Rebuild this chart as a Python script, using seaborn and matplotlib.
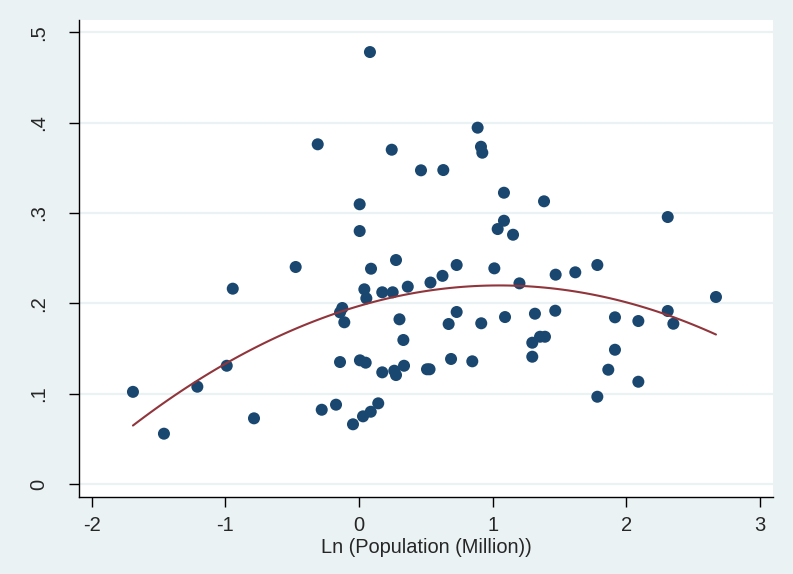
import matplotlib
matplotlib.use("Agg")
import matplotlib.pyplot as plt
import seaborn as sns
import pandas as pd

# Log population (million) and the outcome share for each observation
ln_pop = [
    -1.692, -1.460, -1.210, -0.990, -0.945, -0.786, -0.474, -0.309, -0.279, -0.172,
    -0.142, -0.142, -0.125, -0.110, -0.045, 0.005, 0.005, 0.007, 0.030, 0.040,
    0.050, 0.055, 0.082, 0.090, 0.088, 0.144, 0.174, 0.174, 0.245, 0.252,
    0.277, 0.264, 0.277, 0.303, 0.332, 0.337, 0.365, 0.464, 0.509, 0.528,
    0.535, 0.625, 0.631, 0.671, 0.689, 0.731, 0.731, 0.848, 0.888, 0.913,
    0.923, 0.915, 1.013, 1.038, 1.085, 1.085, 1.093, 1.153, 1.201, 1.297,
    1.297, 1.317, 1.355, 1.392, 1.385, 1.469, 1.472, 1.619, 1.784, 1.784,
    1.866, 1.916, 1.916, 2.091, 2.091, 2.311, 2.311, 2.353, 2.672,
]
share = [
    0.102, 0.0557, 0.1077, 0.1309, 0.2162, 0.0727, 0.2402, 0.3760, 0.0822, 0.0878,
    0.1350, 0.1900, 0.1948, 0.1790, 0.0661, 0.3096, 0.2800, 0.1369, 0.0749, 0.2155,
    0.1343, 0.2055, 0.4781, 0.2383, 0.0800, 0.0893, 0.2122, 0.1236, 0.3700, 0.2122,
    0.2479, 0.1254, 0.1206, 0.1823, 0.1594, 0.1309, 0.2184, 0.3472, 0.1270, 0.1270,
    0.2230, 0.2304, 0.3475, 0.1771, 0.1384, 0.1904, 0.2424, 0.1358, 0.3944, 0.3733,
    0.3667, 0.1779, 0.2387, 0.2822, 0.3224, 0.2914, 0.1848, 0.2759, 0.2221, 0.1564,
    0.1409, 0.1885, 0.1630, 0.1630, 0.3129, 0.1918, 0.2317, 0.2343, 0.2424, 0.0966,
    0.1265, 0.1845, 0.1486, 0.1804, 0.1132, 0.2955, 0.1915, 0.1774, 0.2070,
]

x_ticks = [-2, -1, 0, 1, 2, 3]
x_tick_labels = ["-2", "-1", "0", "1", "2", "3"]
y_ticks = [0, 0.1, 0.2, 0.3, 0.4, 0.5]
y_tick_labels = ["0", ".1", ".2", ".3", ".4", ".5"]
x_label = "Ln (Population (Million))"

df = pd.DataFrame({"ln_pop": ln_pop, "share": share})

sns.set_theme(style="white")
plt.rcParams["font.family"] = ["Liberation Sans", "DejaVu Sans"]

BG = "#EAF2F3"
NAVY = "#1A476F"
MAROON = "#90353B"

fig = plt.figure(figsize=(7.93, 5.74), dpi=100, facecolor=BG)
ax = fig.add_axes([0.0996, 0.1341, 0.8752, 0.8311])
ax.set_facecolor("white")

# horizontal grid lines at each y tick
for yv in y_ticks:
    ax.axhline(yv, color=BG, lw=1.6, zorder=0)

sns.scatterplot(data=df, x="ln_pop", y="share", ax=ax, color=NAVY,
                s=75, edgecolor="none", zorder=3)
# quadratic fit line
sns.regplot(data=df, x="ln_pop", y="share", ax=ax, order=2, ci=None,
            scatter=False, line_kws={"color": MAROON, "lw": 1.5, "zorder": 4})

ax.set_xlim(-2.096, 3.099)
ax.set_ylim(-0.0144, 0.5136)
ax.set_xticks(x_ticks)
ax.set_xticklabels(x_tick_labels, fontsize=14.5)
ax.set_yticks(y_ticks)
ax.set_yticklabels(y_tick_labels, fontsize=14.5, rotation=90, va="center")
ax.set_xlabel(x_label, fontsize=14.4, labelpad=2)
ax.set_ylabel("")

for side in ("top", "right"):
    ax.spines[side].set_visible(False)
for side in ("left", "bottom"):
    ax.spines[side].set_color("black")
    ax.spines[side].set_linewidth(1.0)

ax.tick_params(axis="x", direction="out", length=7, width=1, color="black",
               pad=6.5, bottom=True)
ax.tick_params(axis="y", direction="out", length=7, width=1, color="black",
               pad=15, left=True)

fig.savefig("out.png", dpi=100, facecolor=BG)
